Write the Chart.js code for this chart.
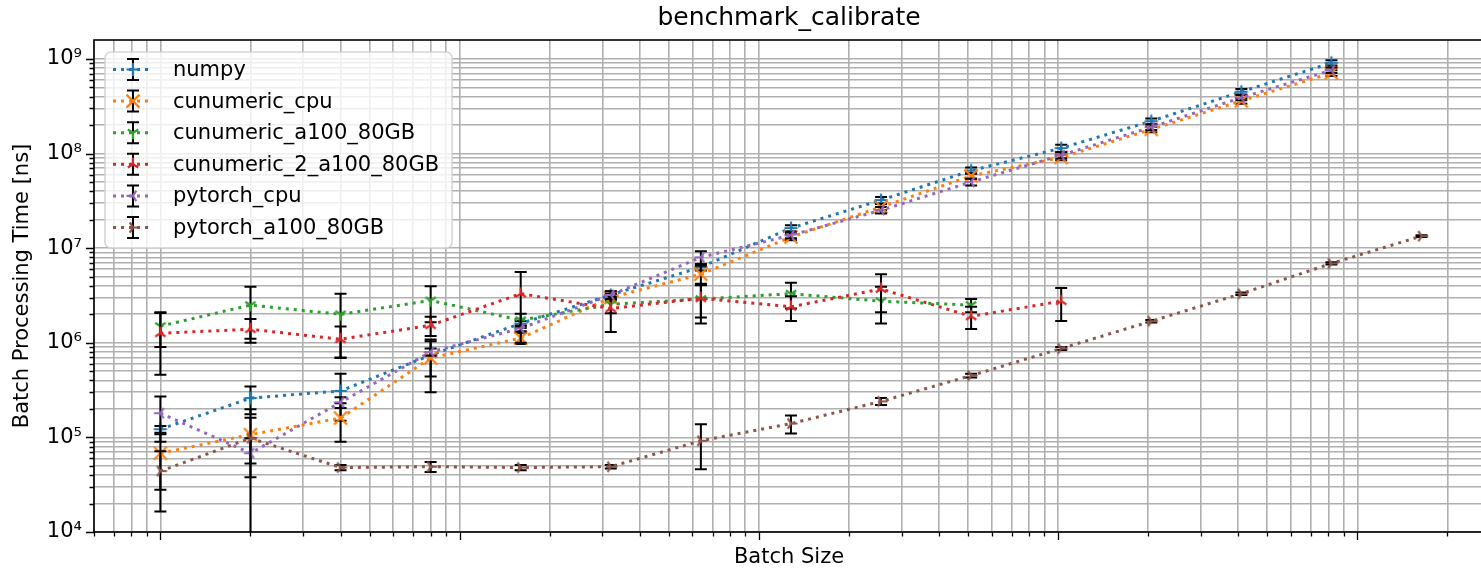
<!DOCTYPE html>
<html>
<head>
<meta charset="utf-8">
<script src="https://cdn.jsdelivr.net/npm/chart.js@4.4.1/dist/chart.umd.min.js"></script>
<style>
  html, body { margin: 0; padding: 0; background: #fff; overflow: hidden; }
  #wrap { width: 1494px; height: 570px; position: relative; }
</style>
</head>
<body>
<div id="wrap"><canvas id="chart"></canvas></div>
<script>
const FONT = "'DejaVu Sans', sans-serif";

const batchSizes = [1, 2, 4, 8, 16, 32, 64, 128, 256, 512, 1024, 2048, 4096, 8192, 16384];

const numpy = [1.22e5, 2.6e5, 3.1e5, 7.4e5, 1.6e6, 3.2e6, 6.3e6, 1.63e7, 3.22e7, 6.6e7, 1.14e8, 2.2e8, 4.5e8, 9.1e8];
const numpyErr = [1.0e4, 8.4e4, 1.6e5, 3.0e5, 1.0e5, 3.0e5, 5.0e5, 1.2e6, 2.5e6, 5.0e6, 1.0e7, 1.5e7, 3.0e7, 6.0e7];

const cunumericCpu = [6.8e4, 1.07e5, 1.6e5, 6.9e5, 1.12e6, 3.0e6, 5.3e6, 1.31e7, 2.72e7, 5.8e7, 9.1e7, 1.8e8, 3.6e8, 7.1e8];
const cunumericCpuErr = [4.0e4, 5.4e4, 7.0e4, 3.9e5, 1.5e5, 2.0e5, 1.2e6, 1.0e6, 2.0e6, 4.0e6, 6.0e6, 1.2e7, 2.5e7, 5.0e7];

const cunumericA100 = [1.5e6, 2.5e6, 2.0e6, 2.8e6, 1.73e6, 2.55e6, 2.9e6, 3.3e6, 2.75e6, 2.5e6];
const cunumericA100Err = [6.0e5, 1.4e6, 1.3e6, 1.15e6, 3.0e5, 5.0e5, 1.3e6, 1.0e6, 1.15e6, 4.0e5];

const cunumeric2A100 = [1.26e6, 1.39e6, 1.09e6, 1.53e6, 3.3e6, 2.3e6, 2.95e6, 2.4e6, 3.7e6, 1.9e6, 2.75e6];
const cunumeric2A100Err = [8.0e5, 3.9e5, 4.0e5, 3.5e5, 2.3e6, 1.0e6, 1.1e6, 7.0e5, 1.6e6, 5.0e5, 1.05e6];

const pytorchCpu = [1.8e5, 6.8e4, 2.35e5, 8.0e5, 1.42e6, 3.2e6, 8.0e6, 1.37e7, 2.52e7, 5.0e7, 9.6e7, 1.9e8, 3.9e8, 7.6e8];
const pytorchCpuErr = [9.0e4, 3.0e4, 3.0e4, 7.0e4, 1.0e5, 3.0e5, 1.3e6, 1.0e6, 2.0e6, 4.0e6, 7.0e6, 1.3e7, 2.5e7, 5.0e7];

const pytorchA100 = [4.4e4, 9.8e4, 4.8e4, 4.9e4, 4.8e4, 4.9e4, 9.2e4, 1.4e5, 2.4e5, 4.5e5, 8.7e5, 1.69e6, 3.3e6, 6.9e6, 1.34e7];
const pytorchA100Err = [2.75e4, 1.0e5, 3.0e3, 6.0e3, 3.0e3, 2.0e3, 4.6e4, 3.0e4, 2.0e4, 2.0e4, 3.0e4, 5.0e4, 1.0e5, 2.0e5, 3.0e5];

const seriesNames = ["numpy", "cunumeric_cpu", "cunumeric_a100_80GB", "cunumeric_2_a100_80GB", "pytorch_cpu", "pytorch_a100_80GB"];
const seriesValues = [numpy, cunumericCpu, cunumericA100, cunumeric2A100, pytorchCpu, pytorchA100];
const seriesErrors = [numpyErr, cunumericCpuErr, cunumericA100Err, cunumeric2A100Err, pytorchCpuErr, pytorchA100Err];
const seriesColors = ["#1f77b4", "#ff7f0e", "#2ca02c", "#d62728", "#9467bd", "#8c564b"];
const seriesMarkers = ["plus", "x", "tri_down", "tri_up", "tri_left", "tri_right"];

// matplotlib-like marker shapes (screen coords, y down)
const TRI = {
  tri_down: [[0, 1], [0.8, -0.5], [-0.8, -0.5]],
  tri_up: [[0, -1], [0.8, 0.5], [-0.8, 0.5]],
  tri_left: [[-1, 0], [0.5, -0.8], [0.5, 0.8]],
  tri_right: [[1, 0], [-0.5, -0.8], [-0.5, 0.8]],
};

function drawMarker(g, kind, cx, cy, color) {
  g.save();
  g.strokeStyle = color;
  g.lineWidth = 2.2;
  g.beginPath();
  const r = 6.5;
  if (kind === "plus") {
    g.moveTo(cx - r, cy); g.lineTo(cx + r, cy);
    g.moveTo(cx, cy - r); g.lineTo(cx, cy + r);
  } else if (kind === "x") {
    g.moveTo(cx - r, cy - r); g.lineTo(cx + r, cy + r);
    g.moveTo(cx - r, cy + r); g.lineTo(cx + r, cy - r);
  } else {
    for (const [dx, dy] of TRI[kind]) {
      g.moveTo(cx, cy); g.lineTo(cx + dx * r, cy + dy * r);
    }
  }
  g.stroke();
  g.restore();
}

function markerCanvas(kind, color) {
  const c = document.createElement("canvas");
  c.width = 20; c.height = 20;
  drawMarker(c.getContext("2d"), kind, 10, 10, color);
  return c;
}

function logTicks(min, max) {
  const out = [];
  for (let e = Math.floor(Math.log10(min)); e <= Math.ceil(Math.log10(max)); e++) {
    for (let m = 1; m <= 9; m++) {
      const v = m * Math.pow(10, e);
      if (v >= min * 0.999999 && v <= max * 1.000001) out.push({ value: v });
    }
  }
  return out;
}
const isDecade = (v) => Math.abs(Math.log10(v) - Math.round(Math.log10(v))) < 1e-9;
const SUP = { "-": "⁻", 0: "⁰", 1: "¹", 2: "²", 3: "³", 4: "⁴", 5: "⁵", 6: "⁶", 7: "⁷", 8: "⁸", 9: "⁹" };
const sup = (n) => String(n).split("").map((ch) => SUP[ch]).join("");

const datasets = seriesNames.map((name, i) => ({
  label: name,
  data: seriesValues[i].map((v, k) => ({ x: batchSizes[k], y: v })),
  errors: seriesErrors[i],
  marker: seriesMarkers[i],
  borderColor: seriesColors[i],
  backgroundColor: seriesColors[i],
  borderWidth: 3,
  borderDash: [3, 5],
  borderCapStyle: "butt",
  pointStyle: markerCanvas(seriesMarkers[i], seriesColors[i]),
  pointRadius: 7,
  tension: 0,
  fill: false,
  order: seriesNames.length - i,
}));

// black error bars, drawn right under each series' own line
const errBars = {
  id: "errBars",
  beforeDatasetDraw(chart, args) {
    const ds = chart.data.datasets[args.index];
    const { ctx, chartArea: a } = chart;
    const x = chart.scales.x, y = chart.scales.y;
    ctx.save();
    ctx.beginPath();
    ctx.rect(a.left, a.top, a.right - a.left, a.bottom - a.top);
    ctx.clip();
    ctx.strokeStyle = "#000";
    ctx.lineWidth = 2;
    ds.data.forEach((p, i) => {
      const e = ds.errors[i];
      const px = x.getPixelForValue(p.x);
      const top = y.getPixelForValue(p.y + e);
      const lo = p.y - e;
      const bot = lo > 0 ? y.getPixelForValue(lo) : a.bottom + 5;
      ctx.beginPath();
      ctx.moveTo(px, top); ctx.lineTo(px, bot);
      ctx.moveTo(px - 6, top); ctx.lineTo(px + 6, top);
      if (lo > 0) { ctx.moveTo(px - 6, bot); ctx.lineTo(px + 6, bot); }
      ctx.stroke();
    });
    ctx.restore();
  },
};

// spines, tick marks, and the boxed legend
const frame = {
  id: "frame",
  afterDraw(chart) {
    const { ctx, chartArea: a } = chart;
    const x = chart.scales.x, y = chart.scales.y;
    ctx.save();
    ctx.strokeStyle = "#000";
    ctx.lineWidth = 1.3;
    ctx.beginPath();
    for (const t of x.ticks) {
      const px = Math.round(x.getPixelForValue(t.value)) + 0.5;
      ctx.moveTo(px, a.bottom); ctx.lineTo(px, a.bottom + (isDecade(t.value) ? 8 : 4.5));
    }
    for (const t of y.ticks) {
      const py = Math.round(y.getPixelForValue(t.value)) + 0.5;
      ctx.moveTo(a.left, py); ctx.lineTo(a.left - (isDecade(t.value) ? 8 : 4.5), py);
    }
    ctx.stroke();
    ctx.lineWidth = 1.6;
    ctx.strokeRect(a.left, a.top, a.right - a.left, a.bottom - a.top);

    // legend
    const lx = 105, ly = 52, rowH = 31.6, firstRow = 69.5;
    ctx.font = "21px " + FONT;
    const textX = 173;
    let maxW = 0;
    chart.data.datasets.forEach((ds) => { maxW = Math.max(maxW, ctx.measureText(ds.label).width); });
    const w = textX + maxW + 13 - lx, h = 196;
    ctx.beginPath();
    ctx.roundRect(lx, ly, w, h, 6);
    ctx.fillStyle = "rgba(255,255,255,0.8)";
    ctx.fill();
    ctx.strokeStyle = "rgba(204,204,204,0.8)";
    ctx.lineWidth = 1.6;
    ctx.stroke();
    chart.data.datasets.forEach((ds, i) => {
      const cy = firstRow + i * rowH;
      ctx.save();
      ctx.strokeStyle = ds.borderColor;
      ctx.lineWidth = 3;
      ctx.setLineDash([3, 5]);
      ctx.beginPath(); ctx.moveTo(113, cy); ctx.lineTo(152, cy); ctx.stroke();
      ctx.restore();
      ctx.strokeStyle = "#000";
      ctx.lineWidth = 2;
      ctx.beginPath();
      ctx.moveTo(133, cy - 10.5); ctx.lineTo(133, cy + 10.5);
      ctx.moveTo(127, cy - 10.5); ctx.lineTo(139, cy - 10.5);
      ctx.moveTo(127, cy + 10.5); ctx.lineTo(139, cy + 10.5);
      ctx.stroke();
      drawMarker(ctx, ds.marker, 133, cy, ds.borderColor);
      ctx.fillStyle = "#000";
      ctx.textBaseline = "middle";
      ctx.textAlign = "left";
      ctx.fillText(ds.label, textX, cy + 1);
    });
    ctx.restore();
  },
};

new Chart(document.getElementById("chart"), {
  type: "line",
  data: { datasets },
  plugins: [errBars, frame],
  options: {
    responsive: true,
    maintainAspectRatio: false,
    animation: false,
    layout: { padding: 0 },
    plugins: {
      legend: { display: false },
      tooltip: { enabled: false },
      title: {
        display: true,
        text: "benchmark_calibrate",
        fullSize: false,
        color: "#000",
        font: { family: FONT, size: 25, weight: "normal" },
        padding: { top: 3, bottom: 7 },
      },
    },
    scales: {
      x: {
        type: "logarithmic",
        min: 0.616,
        max: 26500,
        afterBuildTicks: (s) => { s.ticks = logTicks(s.min, s.max); },
        afterFit: (s) => { s.height = 38; },
        ticks: { autoSkip: false, callback: () => "", padding: 0 },
        grid: { color: "#b0b0b0", lineWidth: 1.6, drawTicks: false },
        border: { display: false },
        title: {
          display: true,
          text: "Batch Size",
          color: "#000",
          font: { family: FONT, size: 21 },
          padding: { top: 0, bottom: 0 },
        },
      },
      y: {
        type: "logarithmic",
        min: 1e4,
        max: 1.585e9,
        afterBuildTicks: (s) => { s.ticks = logTicks(s.min, s.max); },
        afterFit: (s) => { s.width = 94; },
        ticks: {
          autoSkip: false,
          padding: 12,
          color: "#000",
          font: { family: FONT, size: 21 },
          callback: (v) => (isDecade(v) ? "10" + sup(Math.round(Math.log10(v))) : ""),
        },
        grid: { color: "#b0b0b0", lineWidth: 1.6, drawTicks: false },
        border: { display: false },
        title: {
          display: true,
          text: "Batch Processing Time [ns]",
          color: "#000",
          font: { family: FONT, size: 21 },
          padding: { top: 10, bottom: 0 },
        },
      },
    },
  },
});
</script>
</body>
</html>
